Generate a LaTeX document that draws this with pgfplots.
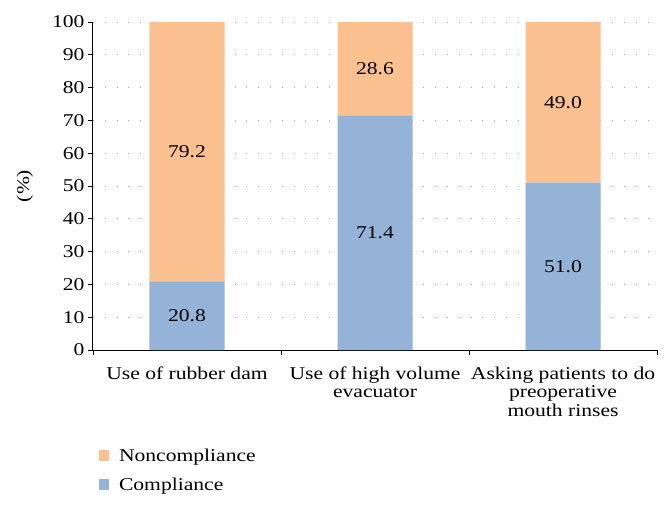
\documentclass[border=0pt]{standalone}
\usepackage{fontspec}
\setmainfont{Liberation Serif}[FakeStretch=1.2]
\usepackage{pgfplots}
\pgfplotsset{compat=1.18}
\definecolor{comp}{HTML}{95B3D7}
\definecolor{noncomp}{HTML}{FAC090}
\pgfplotstableread{
x comp noncomp compmid noncompmid
1 20.8 79.2 10.4 60.4
2 71.4 28.6 35.7 85.7
3 51.0 49.0 25.5 75.5
}\data
\usepackage{pgfplotstable}
\begin{document}
\begin{tikzpicture}
\begin{axis}[
  name=ax,
  scale only axis, width=564pt, height=328pt,
  ybar stacked, bar width=75pt,
  xmin=0.5, xmax=3.5, ymin=0, ymax=100,
  axis lines=left,
  axis line style={-, black, line width=1pt},
  tick align=outside,
  major tick length=5pt,
  ytick={0,10,...,100},
  ytick style={black, line width=0.8pt},
  xtick={1,2,3},
  xticklabels={Use of rubber dam, Use of high volume\\evacuator, Asking patients to do\\preoperative\\mouth rinses},
  major x tick style={draw=none},
  minor xtick={0.5,1.5,2.5,3.5},
  minor x tick style={black, line width=0.8pt},
  minor tick length=5pt,
  xticklabel style={align=center, font=\fontsize{18}{18.5}\selectfont, yshift=-8pt},
  yticklabel style={font=\fontsize{18}{18}\selectfont},
  /pgf/number format/assume math mode=true,
  ymajorgrids,
  major grid style={gray!70, line width=0.8pt, dash pattern=on 0.8pt off 11pt},
  ylabel={(\%)},
  ylabel style={font=\fontsize{18}{18}\selectfont, at={(axis description cs:-0.1,0.5)}},
  legend style={draw=none, fill=none, at={(axis description cs:0.005,-0.29)}, anchor=north west,
     font=\fontsize{18}{18}\selectfont, row sep=11pt},
  legend cell align=left,
  reverse legend,
]
\addplot[fill=comp, draw=none, legend image code/.code={\fill[comp] (0pt,-5pt) rectangle (10pt,6pt); \path (18pt,0pt);}]
  table[x=x, y=comp] {\data};
\addlegendentry{Compliance}
\addplot[fill=noncomp, draw=none, legend image code/.code={\fill[noncomp] (0pt,-5pt) rectangle (10pt,6pt); \path (18pt,0pt);}]
  table[x=x, y=noncomp] {\data};
\addlegendentry{Noncompliance}
\end{axis}
\begin{axis}[
  scale only axis, width=564pt, height=328pt,
  xmin=0.5, xmax=3.5, ymin=0, ymax=100,
  hide axis,
  /pgf/number format/assume math mode=true,
  nodes near coords={\pgfmathprintnumber[fixed,fixed zerofill,precision=1,assume math mode=true]{\pgfplotspointmeta}},
  nodes near coords align=center,
  every node near coord/.append style={font=\fontsize{18}{18}\selectfont, black, anchor=center},
]
\addplot[draw=none, mark=none, point meta=\thisrow{comp}] table[x=x, y=compmid] {\data};
\addplot[draw=none, mark=none, point meta=\thisrow{noncomp}] table[x=x, y=noncompmid] {\data};
\end{axis}
\pgfresetboundingbox
\path[use as bounding box] ([shift={(-93pt,-159pt)}]ax.south west) rectangle ([shift={(15pt,22pt)}]ax.north east);
\end{tikzpicture}
\end{document}
